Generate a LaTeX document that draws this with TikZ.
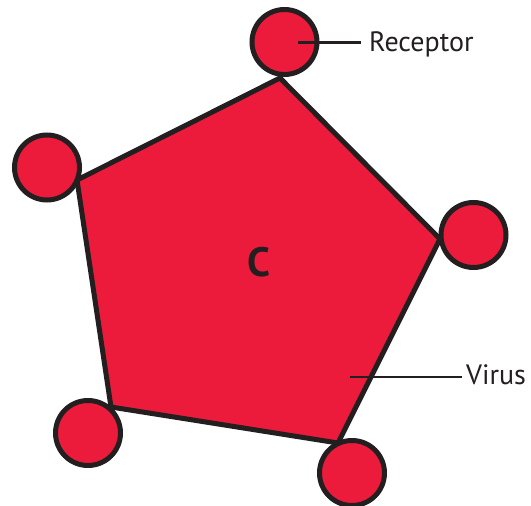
\documentclass[tikz,border=0pt]{standalone}
\usepackage{fontspec}
\setmainfont{PT Sans}
\usetikzlibrary{positioning}

\definecolor{virusred}{HTML}{ED1B3B}
\definecolor{outline}{HTML}{231F20}

\tikzset{
	receptor/.style={circle, draw=outline, fill=virusred, line width=5pt, minimum size=65pt, inner sep=0pt},
	pointer/.style={draw=outline, line width=2.5pt},
	tag/.style={font=\fontsize{28}{28}\selectfont, text=outline, inner sep=0pt, anchor=base west},
}

\begin{document}
\begin{tikzpicture}[x=1pt, y=-1pt]
	\useasboundingbox (0,0) rectangle (531,506);
	
	% 1. 五边形的顶点
	\coordinate (v1) at (280,78);
	\coordinate (v2) at (440,239);
	\coordinate (v3) at (338,443);
	\coordinate (v4) at (111,407);
	\coordinate (v5) at (77,180);
	
	% 2. 病毒本体
	\draw[draw=outline, fill=virusred, line width=5pt] (v1) -- (v2) -- (v3) -- (v4) -- (v5) -- cycle;
	\node[font=\bfseries\fontsize{41}{41}\selectfont, text=outline] (c) at (258.5,262.5) {C};
	
	% 3. 顶点上的受体
	\node[receptor] (r1) at (284.5,42) {};
	\node[receptor] (r2) at (473.5,235) {};
	\node[receptor] (r3) at (352,473) {};
	\node[receptor] (r4) at (88,433) {};
	\node[receptor] (r5) at (47,167.5) {};
	
	% 4. 标注
	\node[tag] (receptor) at (369,52) {Receptor};
	\node[tag] (virus) at (466,384) {Virus};
	\coordinate (rtip) at (298,42.7);
	\coordinate (vtip) at (350,377);
	\draw[pointer, shorten >=8pt] (rtip) -- (rtip -| receptor.west);
	\draw[pointer, shorten >=4pt] (vtip) -- (vtip -| virus.west);
\end{tikzpicture}
\end{document}
